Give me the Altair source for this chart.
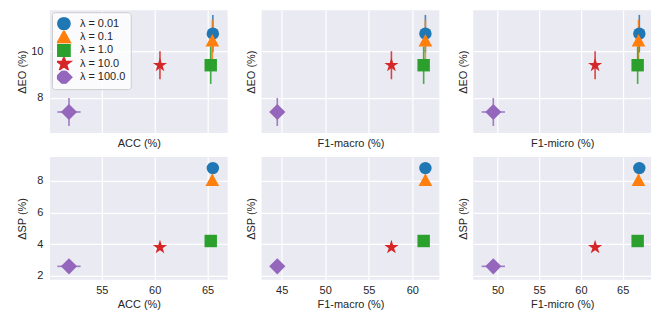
import altair as alt
import pandas as pd

lambdas = ["λ = 0.01", "λ = 0.1", "λ = 1.0", "λ = 10.0", "λ = 100.0"]
colors = ["#1f77b4", "#ff7f0e", "#2ca02c", "#d62728", "#9467bd"]
star = ("M0,-1.2L0.269,-0.371L1.141,-0.371L0.436,0.142L0.706,0.971L0,0.458"
        "L-0.706,0.971L-0.436,0.142L-1.141,-0.371L-0.269,-0.371Z")
triangle = "M0,-1.05L1.1,0.95L-1.1,0.95Z"
diamond = "M0,-1.3L1.3,0L0,1.3L-1.3,0Z"
shapes = ["circle", triangle, "square", star, diamond]

acc = [65.5, 65.45, 65.3, 60.5, 51.9]
acc_err = [0.15, 0.15, 0.15, 0.25, 1.1]
f1_macro = [61.5, 61.5, 61.3, 57.6, 44.5]
f1_macro_err = [0.15, 0.15, 0.15, 0.25, 0.7]
f1_micro = [67.0, 66.9, 66.8, 61.7, 49.5]
f1_micro_err = [0.15, 0.15, 0.15, 0.25, 1.4]
eo = [10.75, 10.45, 9.4, 9.4, 7.4]
eo_err = [0.8, 0.9, 0.8, 0.6, 0.6]
sp = [8.8, 8.05, 4.2, 3.8, 2.6]
sp_err = [0.1, 0.35, 0.1, 0.1, 0.1]

x_specs = [
    ("ACC (%)", acc, acc_err, [50.1, 66.9], [55, 60, 65]),
    ("F1-macro (%)", f1_macro, f1_macro_err, [42.7, 63.1], [45, 50, 55, 60]),
    ("F1-micro (%)", f1_micro, f1_micro_err, [47.1, 68.4], [50, 55, 60, 65]),
]
y_specs = [
    ("ΔEO (%)", eo, eo_err, [6.5, 11.75], [8, 10]),
    ("ΔSP (%)", sp, sp_err, [1.75, 9.5], [2, 4, 6, 8]),
]

W, H = 178, 123
color_scale = alt.Scale(domain=lambdas, range=colors)
shape_scale = alt.Scale(domain=lambdas, range=shapes)


def panel(row, col):
    xt, xv, xe, xd, xticks = x_specs[col]
    yt, yv, ye, yd, yticks = y_specs[row]
    df = pd.DataFrame({
        "lam": lambdas, "x": xv, "y": yv,
        "xlo": [a - b for a, b in zip(xv, xe)], "xhi": [a + b for a, b in zip(xv, xe)],
        "ylo": [a - b for a, b in zip(yv, ye)], "yhi": [a + b for a, b in zip(yv, ye)],
    })
    xaxis = alt.Axis(title=xt, values=xticks, labels=(row == 1), grid=True,
                     titlePadding=4 if row == 0 else 3, labelPadding=5)
    yaxis = alt.Axis(title=yt, values=yticks, labels=(col == 0), grid=True,
                     minExtent=18 if col == 0 else 0, maxExtent=18 if col == 0 else 0,
                     titlePadding=4 if col == 0 else 5, labelPadding=7)
    xs = alt.Scale(domain=xd, nice=False, zero=False)
    ys = alt.Scale(domain=yd, nice=False, zero=False)
    base = alt.Chart(df)
    show_legend = (row == 0 and col == 0)
    if show_legend:
        leg = alt.Legend(title=None, orient="top-left", offset=2, fillColor="rgba(255,255,255,0.8)",
                         strokeColor="#cccccc", cornerRadius=3, padding=5, symbolSize=150,
                         labelFontSize=11, rowPadding=0.4, clipHeight=13, symbolOpacity=1,
                         labelOffset=9, labelFont="Liberation Sans", labelColor="#262626")
    else:
        leg = None
    col_enc = alt.Color("lam:N", scale=color_scale, legend=leg, sort=lambdas)
    vr = base.mark_rule(strokeWidth=1.6, opacity=0.85).encode(
        x=alt.X("x:Q", scale=xs, axis=xaxis),
        y=alt.Y("ylo:Q", scale=ys, axis=yaxis), y2="yhi:Q",
        color=col_enc,
    )
    hr = base.mark_rule(strokeWidth=1.6, opacity=0.85).encode(
        x=alt.X("xlo:Q", scale=xs), x2="xhi:Q",
        y=alt.Y("y:Q", scale=ys),
        color=col_enc,
    )
    pts = base.mark_point(filled=True, opacity=1, size=155).encode(
        x=alt.X("x:Q", scale=xs),
        y=alt.Y("y:Q", scale=ys),
        color=col_enc,
        shape=alt.Shape("lam:N", scale=shape_scale, legend=leg, sort=lambdas),
    )
    return alt.layer(vr, hr, pts).properties(width=W, height=H)


rows = []
for r in range(2):
    rows.append(alt.hconcat(*[panel(r, c) for c in range(3)], spacing=18).resolve_legend(
        color="independent", shape="independent"))

chart = alt.vconcat(*rows, spacing=9).resolve_legend(
    color="independent", shape="independent"
).properties(padding={"left": 9, "top": 2, "right": 5, "bottom": 5}).configure_view(
    fill="#EAEAF2", stroke=None
).configure_axis(
    domain=False, ticks=False, gridColor="white", gridWidth=1.2,
    labelFont="Liberation Sans", titleFont="Liberation Sans",
    labelFontSize=11, titleFontSize=11, labelColor="#262626", titleColor="#262626",
    titleFontWeight="normal",
)

chart.save("out.html", embed_options={"renderer": "svg", "actions": False})
